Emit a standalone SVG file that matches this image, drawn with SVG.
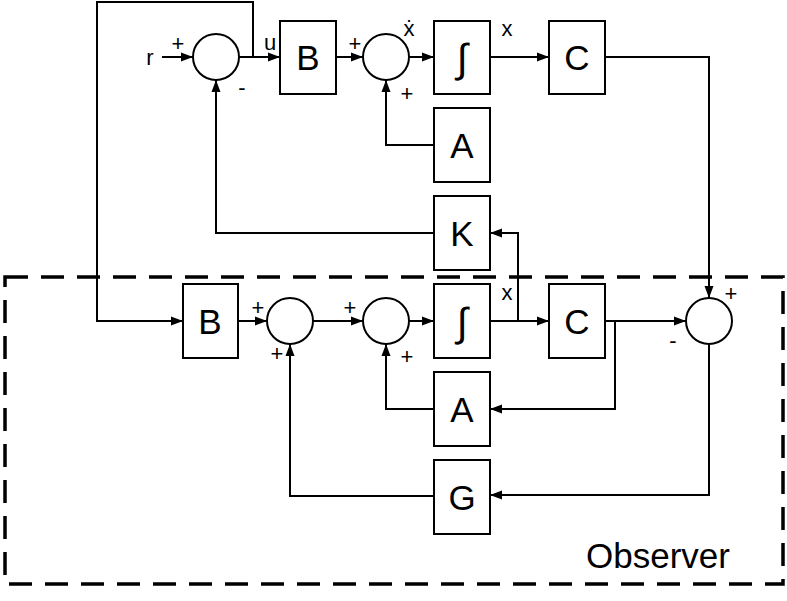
<svg xmlns="http://www.w3.org/2000/svg" width="787" height="601" viewBox="0 0 787 601">
<style>
.box{fill:#fff;stroke:#000;stroke-width:2}
.sum{fill:#fff;stroke:#000;stroke-width:2}
.lbl{font-family:"Liberation Sans",Arial,sans-serif;font-size:35px;fill:#000;text-anchor:middle}
.int{font-family:"Liberation Sans",Arial,sans-serif;font-size:40px;fill:#000;text-anchor:middle}
.sm{font-family:"Liberation Sans",Arial,sans-serif;font-size:22px;fill:#000;text-anchor:middle}
.wire{fill:none;stroke:#000;stroke-width:2;marker-end:url(#ah)}
</style>
<defs>
<marker id="ah" viewBox="0 0 12 10" refX="12" refY="5" markerWidth="12" markerHeight="10" markerUnits="userSpaceOnUse" orient="auto">
<path d="M0,0.5 L12,5 L0,9.5 Z" fill="#000"/>
</marker>
</defs>
<rect x="5" y="277" width="778" height="307" fill="none" stroke="#000" stroke-width="3.5" stroke-dasharray="23 13"/>
<text x="658" y="568" font-family="'Liberation Sans',Arial,sans-serif" font-size="35" text-anchor="middle">Observer</text>
<g id="connectors">
<path class="wire" d="M162,57 H193"/>
<path class="wire" d="M239,57 H280"/>
<path class="wire" d="M253,57 V2 H97 V321 H183"/>
<path class="wire" d="M336,57 H363"/>
<path class="wire" d="M409,57 H434"/>
<path class="wire" d="M490,57 H549"/>
<path class="wire" d="M605,57 H709 V298"/>
<path class="wire" d="M434,145 H386 V80"/>
<path class="wire" d="M434,233 H216 V80"/>
<path class="wire" d="M238,321 H267"/>
<path class="wire" d="M313,321 H363"/>
<path class="wire" d="M409,321 H434"/>
<path class="wire" d="M490,321 H549"/>
<path class="wire" d="M518,321 V233 H490"/>
<path class="wire" d="M605,321 H686"/>
<path class="wire" d="M615,321 V409 H490"/>
<path class="wire" d="M434,409 H386 V344"/>
<path class="wire" d="M709,344 V495 H490"/>
<path class="wire" d="M434,496 H290 V344"/>
</g>
<g id="sum1"><circle class="sum" cx="216" cy="57" r="23"/><text class="sm" x="178" y="51">+</text><text class="sm" x="242" y="95">-</text></g>
<g id="sum2"><circle class="sum" cx="386" cy="57" r="23"/><text class="sm" x="355" y="51">+</text><text class="sm" x="407" y="101">+</text></g>
<g id="B"><rect class="box" x="280" y="21" width="56" height="73"/><text class="lbl" x="308" y="70">B</text></g>
<g id="int"><rect class="box" x="434" y="21" width="56" height="73"/><text class="int" x="462" y="72">∫</text></g>
<g id="C"><rect class="box" x="549" y="21" width="56" height="73"/><text class="lbl" x="577" y="70">C</text></g>
<g id="A"><rect class="box" x="434" y="108" width="56" height="74"/><text class="lbl" x="462" y="158">A</text></g>
<g id="K"><rect class="box" x="434" y="196" width="56" height="74"/><text class="lbl" x="462" y="246">K</text></g>
<g id="Bobs"><rect class="box" x="183" y="284" width="55" height="74"/><text class="lbl" x="210" y="334">B</text></g>
<g id="sum3"><circle class="sum" cx="290" cy="321" r="23"/><text class="sm" x="258" y="315">+</text><text class="sm" x="277" y="361">+</text></g>
<g id="sum4"><circle class="sum" cx="386" cy="321" r="23"/><text class="sm" x="350" y="315">+</text><text class="sm" x="407" y="364">+</text></g>
<g id="intobs"><rect class="box" x="434" y="284" width="56" height="74"/><text class="int" x="462" y="336">∫</text></g>
<g id="Cobs"><rect class="box" x="549" y="284" width="56" height="74"/><text class="lbl" x="577" y="334">C</text></g>
<g id="sum5"><circle class="sum" cx="709" cy="321" r="23"/><text class="sm" x="731" y="301">+</text><text class="sm" x="673" y="348">-</text></g>
<g id="Aobs"><rect class="box" x="434" y="372" width="56" height="74"/><text class="lbl" x="462" y="422">A</text></g>
<g id="G"><rect class="box" x="434" y="460" width="56" height="74"/><text class="lbl" x="462" y="510">G</text></g>
<g id="labels">
<text class="sm" x="150" y="65">r</text>
<text class="sm" x="270" y="50">u</text>
<text class="sm" x="409" y="36">ẋ</text>
<text class="sm" x="507" y="36">x</text>
<text class="sm" x="507" y="300">x</text>
</g>
</svg>
